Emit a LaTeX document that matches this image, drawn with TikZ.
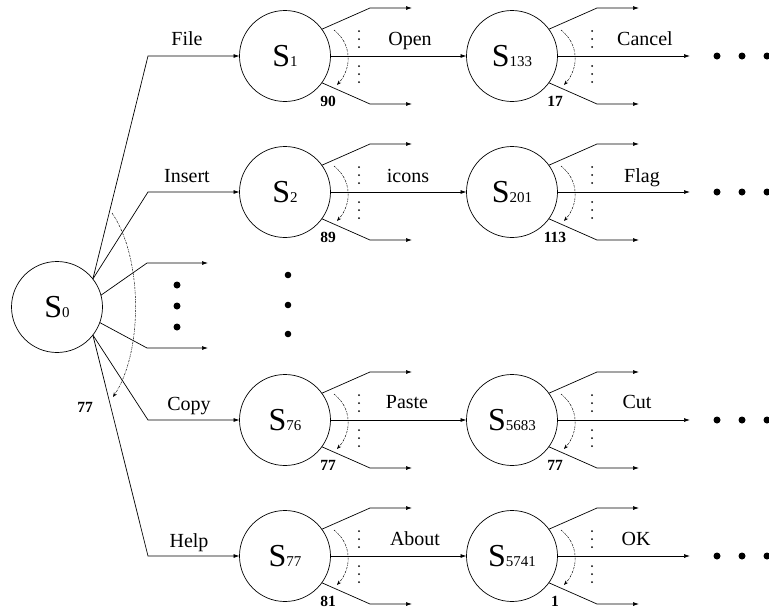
\documentclass[tikz,border=0pt]{standalone}
\usepackage{fontspec}
\setmainfont{Liberation Serif}
\usetikzlibrary{calc,arrows.meta}

% state label: large S with a small index on the baseline
\newcommand\stname[1]{{\fontsize{32}{32}\selectfont S}{\fontsize{15}{15}\selectfont #1}}

\tikzset{
  state/.style={circle, draw, line width=0.7pt, minimum size=91pt, inner sep=0pt, outer sep=0pt},
  edge/.style={line width=0.7pt, -{Latex[length=6pt,width=4pt]}},
  turn/.style={line width=0.5pt, dash pattern=on 2pt off 1pt on 0.6pt off 1pt,
               -{Stealth[length=4.5pt,width=3.5pt]}},
  lab/.style={font=\fontsize{20}{20}\selectfont, anchor=base, inner sep=0pt},
  num/.style={font=\bfseries\fontsize{15.5}{15.5}\selectfont, inner sep=0pt},
  bigdot/.style={fill=black},
}

% the two side branches, the vertical dots, the dashed turn arrow and the count
\newcommand\outfan[3]{%
  \coordinate (#1-ub) at ($(#1)+(85,-48)$);
  \coordinate (#1-ue) at ($(#1)+(127,-48)$);
  \coordinate (#1-lb) at ($(#1)+(85,48)$);
  \coordinate (#1-le) at ($(#1)+(127,48)$);
  \draw[edge] (#1.36) -- (#1-ub) -- (#1-ue);
  \draw[edge] (#1.-36) -- (#1-lb) -- (#1-le);
  \foreach \d in {-25,-17,-9,10,18,26} \fill ($(#1)+(#2,\d)$) circle (1);
  \coordinate (#1-as) at ($(#1)+(49,-26)$);
  \coordinate (#1-ae) at ($(#1)+(52,29)$);
  \draw[turn] (#1-as) .. controls ($(#1)+(67,-12)$) and ($(#1)+(67,12)$) .. (#1-ae);
  \node[num] (#1-n) at ($(#1)+(43,45)$) {#3};
}

% three dots that continue a row
\newcommand\moredots[1]{%
  \foreach \dx in {27,52,77} \fill[bigdot] ($(#1)+(\dx,0)$) circle (3.5);
}

\begin{document}
\begin{tikzpicture}[x=1pt, y=-1pt]
\useasboundingbox (0,0) rectangle (769,611);

% states
\node[state] (S0) at (57,307) {\stname{0}};
\node[state] (S1) at (285,56) {\stname{1}};
\node[state] (S2) at (285,192) {\stname{2}};
\node[state] (S76) at (285,420) {\stname{76}};
\node[state] (S77) at (285,556) {\stname{77}};
\node[state] (S133) at (512,56) {\stname{133}};
\node[state] (S201) at (512,192) {\stname{201}};
\node[state] (S5683) at (512,420) {\stname{5683}};
\node[state] (S5741) at (512,556) {\stname{5741}};

% fan out of S0
\coordinate (k1) at (148,56);
\coordinate (k2) at (148,192);
\coordinate (k76) at (148,420);
\coordinate (k77) at (148,556);
\coordinate (ku) at (147,263);
\coordinate (kue) at (208,263);
\coordinate (kl) at (147,348);
\coordinate (kle) at (208,348);
\draw[edge] (S0.38) -- (k1) -- (S1.west);
\draw[edge] (S0.38) -- (k2) -- (S2.west);
\draw[edge] (S0.15) -- (ku) -- (kue);
\draw[edge] (S0.-20) -- (kl) -- (kle);
\draw[edge] (S0.-38) -- (k76) -- (S76.west);
\draw[edge] (S0.-38) -- (k77) -- (S77.west);
\node[lab] (lfile) at (187,45) {File};
\node[lab] (linsert) at (187,182) {Insert};
\node[lab] (lcopy) at (189,410) {Copy};
\node[lab] (lhelp) at (189,547) {Help};

% dots between the S0 side arrows and in the middle column
\foreach \y in {285,306,327} \fill[bigdot] (177,\y) circle (3.5);
\foreach \y in {275,305,334} \fill[bigdot] (288,\y) circle (3.3);

% turn arrow of S0
\coordinate (S0-as) at (112,213);
\coordinate (S0-ae) at (113,397);
\draw[turn] (S0-as) .. controls (143,258) and (143,352) .. (S0-ae);
\node[num] (S0-n) at (85,407) {77};

% second column links
\draw[edge] (S1) -- (S133);
\draw[edge] (S2) -- (S201);
\draw[edge] (S76) -- (S5683);
\draw[edge] (S77) -- (S5741);
\node[lab] (lopen) at (410,45) {Open};
\node[lab] (licons) at (408,182) {icons};
\node[lab] (lpaste) at (407,408) {Paste};
\node[lab] (labout) at (415,545) {About};

% last column links
\coordinate (e133) at (690,56);
\coordinate (e201) at (690,192);
\coordinate (e5683) at (690,420);
\coordinate (e5741) at (690,556);
\draw[edge] (S133) -- (e133);
\draw[edge] (S201) -- (e201);
\draw[edge] (S5683) -- (e5683);
\draw[edge] (S5741) -- (e5741);
\node[lab] (lcancel) at (645,45) {Cancel};
\node[lab] (lflag) at (642,182) {Flag};
\node[lab] (lcut) at (637,408) {Cut};
\node[lab] (lok) at (636,545) {OK};
\moredots{e133}
\moredots{e201}
\moredots{e5683}
\moredots{e5741}

% branches of each state
\outfan{S1}{74}{90}
\outfan{S2}{74}{89}
\outfan{S76}{74}{77}
\outfan{S77}{74}{81}
\outfan{S133}{80}{17}
\outfan{S201}{80}{113}
\outfan{S5683}{80}{77}
\outfan{S5741}{80}{1}
\end{tikzpicture}
\end{document}
